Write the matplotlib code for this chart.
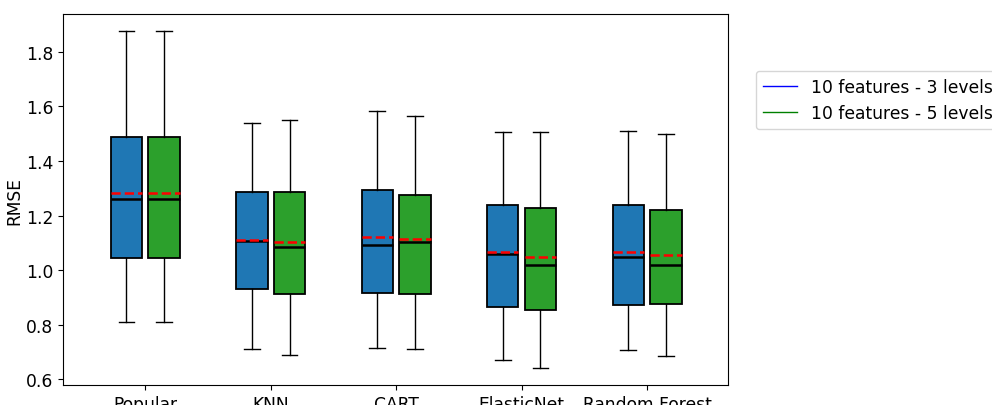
import matplotlib
matplotlib.use("Agg")
import matplotlib.pyplot as plt
import numpy as np
from matplotlib.lines import Line2D

models = ["Popular", "KNN", "CART", "ElasticNet", "Random Forest"]
series_labels = ["10 features - 3 levels", "10 features - 5 levels"]

# per model: whisker low, q1, median, q3, whisker high, mean
lo_3 = [0.809, 0.710, 0.713, 0.669, 0.708]
q1_3 = [1.045, 0.931, 0.917, 0.864, 0.870]
med_3 = [1.259, 1.106, 1.091, 1.060, 1.048]
q3_3 = [1.487, 1.287, 1.295, 1.237, 1.237]
hi_3 = [1.876, 1.539, 1.582, 1.505, 1.511]
mean_3 = [1.281, 1.111, 1.121, 1.065, 1.068]

lo_5 = [0.809, 0.688, 0.710, 0.640, 0.683]
q1_5 = [1.045, 0.913, 0.913, 0.852, 0.876]
med_5 = [1.259, 1.084, 1.104, 1.017, 1.017]
q3_5 = [1.487, 1.288, 1.274, 1.226, 1.220]
hi_5 = [1.876, 1.550, 1.564, 1.508, 1.499]
mean_5 = [1.281, 1.104, 1.114, 1.048, 1.055]


def make_stats(lo, q1, med, q3, hi, mean):
    return [dict(whislo=a, q1=b, med=c, q3=d, whishi=e, mean=f, fliers=[])
            for a, b, c, d, e, f in zip(lo, q1, med, q3, hi, mean)]


fig = plt.figure(figsize=(9.92, 4.06), dpi=100)
ax = fig.add_axes([0.0635, 0.049, 0.6703, 0.914])

x = np.arange(len(models))
groups = [
    (make_stats(lo_3, q1_3, med_3, q3_3, hi_3, mean_3), -0.15, "#1f77b4"),
    (make_stats(lo_5, q1_5, med_5, q3_5, hi_5, mean_5), 0.15, "#2ca02c"),
]
for stats, off, color in groups:
    ax.bxp(stats, positions=x + off, widths=0.25, patch_artist=True,
           showmeans=True, meanline=True, showfliers=False,
           boxprops=dict(facecolor=color, edgecolor="black", linewidth=1.3),
           medianprops=dict(color="black", linewidth=1.8),
           meanprops=dict(color="red", linestyle="--", linewidth=1.8),
           whiskerprops=dict(color="black", linewidth=1.0),
           capprops=dict(color="black", linewidth=1.0))

fs = 12.3
ax.set_xticks(x, models)
ax.set_xlim(-0.656, 4.645)
ax.set_ylim(0.578, 1.939)
ax.set_yticks(np.arange(0.6, 1.81, 0.2))
ax.set_ylabel("RMSE", fontsize=fs, labelpad=2)
ax.tick_params(labelsize=fs)

handles = [Line2D([], [], color="blue", linewidth=1.0),
           Line2D([], [], color="green", linewidth=1.0)]
ax.legend(handles, series_labels, loc="upper left", bbox_to_anchor=(1.042, 0.847),
          borderaxespad=0, fontsize=fs)

fig.savefig("out.png", dpi=100)
